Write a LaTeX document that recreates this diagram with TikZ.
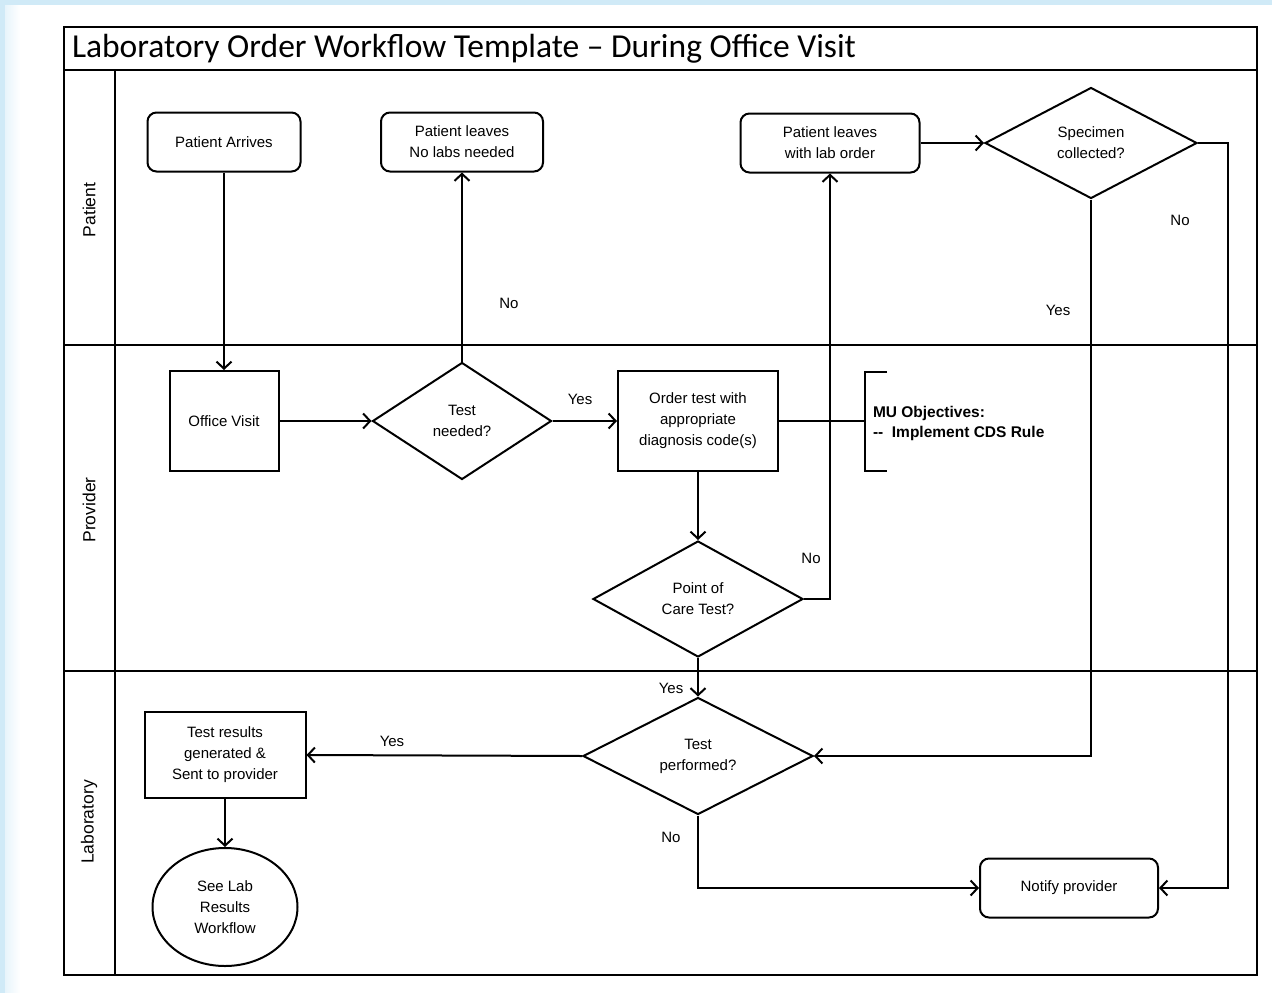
\documentclass[tikz,border=0pt]{standalone}
\usepackage{fontspec}
\setmainfont{Liberation Sans}
\newfontfamily\titlefont[Ligatures=TeX]{Carlito}
\usetikzlibrary{shapes.geometric,arrows.meta,calc}
\definecolor{bgblue}{RGB}{208,234,247}
\begin{document}
\begin{tikzpicture}[x=1pt,y=-1pt,
  line width=2pt,
  txt/.style={font=\fontsize{15}{21}\selectfont, align=center},
  rbox/.style={txt, draw, rounded corners=9pt, minimum width=153pt, minimum height=59pt, inner sep=0pt},
  sbox/.style={txt, draw, inner sep=0pt},
  dia/.style={txt, draw, diamond, inner sep=0pt},
  arr/.style={-{Straight Barb[length=7pt,width=15pt,line width=2pt]}, line width=2pt},
  lbl/.style={font=\fontsize{15}{17}\selectfont},
  lane/.style={line width=2.8pt},
  lanelbl/.style={rotate=90, font=\fontsize{17.5}{20}\selectfont},
]
\useasboundingbox (0,0) rectangle (1272,993);
% background
\fill[bgblue] (0,0) rectangle (1272,993);
\fill[white] (5,5) rectangle (1272,993);
\shade[left color=bgblue!50, right color=white] (5,5) rectangle (20,993);

% pool frame
\draw[lane] (64,27) rectangle (1257,975);
\draw[lane] (64,70) -- (1257,70);
\draw[lane] (64,345) -- (1257,345);
\draw[lane] (64,671) -- (1257,671);
\draw[lane] (115,70) -- (115,975);

\node[anchor=west, inner sep=0pt, font=\titlefont\fontsize{33.5}{36}\selectfont] (title) at (71,49) {Laboratory Order Workflow Template – During Office Visit};

\node[lanelbl] (lpat) at (89,210) {Patient};
\node[lanelbl] (lprov) at (89,510) {Provider};
\node[lanelbl] (llab) at (89,822) {Laboratory};

% Patient lane
\node[rbox] (arrive) at (224,142) {Patient Arrives};
\node[rbox, minimum width=162pt] (leave1) at (462,142) {Patient leaves\\No labs needed};
\node[rbox, minimum width=179pt] (leave2) at (830,143) {Patient leaves\\with lab order};
\node[dia, minimum width=212pt, minimum height=111pt] (spec) at (1091,143) {Specimen\\collected?};

% Provider lane
\node[sbox, minimum width=109pt, minimum height=100pt] (office) at (224,421) {Office Visit};
\node[dia, minimum width=179pt, minimum height=117pt] (tneed) at (462,421) {Test\\needed?};
\node[sbox, minimum width=160pt, minimum height=100pt] (order) at (698,421) {Order test with\\appropriate\\diagnosis code(s)};
\node[dia, minimum width=210pt, minimum height=116pt] (poc) at (698,599) {Point of\\Care Test?};

% bracket with MU objectives
\draw (887,372) -- (865,372) -- (865,471) -- (887,471);
\coordinate (br) at (865,421);
\draw (order.east) -- (br);
\node[anchor=west, align=left, inner sep=0pt, font=\bfseries\fontsize{15.5}{20}\selectfont] (mu) at (872,423) {MU Objectives:\\-{}-\ \ Implement CDS Rule};

% Laboratory lane
\node[dia, minimum width=230pt, minimum height=117pt] (tperf) at (698,756) {Test\\performed?};
\node[sbox, minimum width=161pt, minimum height=86pt] (results) at (225,755) {Test results\\generated \&\\Sent to provider};
\node[txt, draw, ellipse, minimum width=145pt, minimum height=118pt, inner sep=0pt] (lab) at (225,907) {See Lab\\Results\\Workflow};
\node[rbox, minimum width=178pt] (notify) at (1069,888) {Notify provider};

% connectors
\draw[arr] (arrive.south) -- (office.north);
\draw[arr] (office.east) -- (tneed.west);
\draw[arr] (tneed.north) -- (leave1.south);
\draw[arr] (tneed.east) -- (order.west);
\draw[arr] (order.south) -- (poc.north);
\draw[arr] (poc.east) -| (leave2.south);
\draw[arr] (poc.south) -- (tperf.north);
\draw[arr] (leave2.east) -- (spec.west);
\draw[arr] (spec.south) |- (tperf.east);
\coordinate (c1) at (1228,143);
\draw[arr] (spec.east) -- (c1) |- (notify.east);
\draw[arr] (tperf.west) -- (results.east);
\draw[arr] (tperf.south) |- (notify.west);
\draw[arr] (results.south) -- (lab.north);

% labels
\node[lbl] (l1) at (509,303) {No};
\node[lbl] (l2) at (580,399) {Yes};
\node[lbl] (l3) at (811,558) {No};
\node[lbl] (l4) at (671,688) {Yes};
\node[lbl] (l5) at (1058,310) {Yes};
\node[lbl] (l6) at (1180,220) {No};
\node[lbl] (l7) at (392,741) {Yes};
\node[lbl] (l8) at (671,837) {No};
\end{tikzpicture}
\end{document}
